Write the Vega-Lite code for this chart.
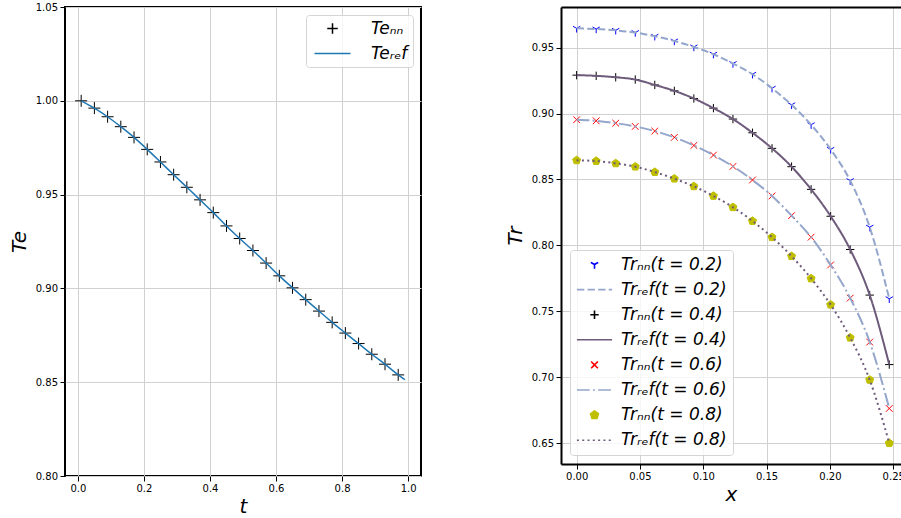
{
  "$schema": "https://vega.github.io/schema/vega-lite/v6.json",
  "background": "white",
  "padding": {"left": 8, "top": 1, "right": -3, "bottom": -4},
  "bounds": "flush",
  "spacing": 140,
  "resolve": {
    "scale": {"stroke": "independent", "fill": "independent", "shape": "independent", "strokeDash": "independent"},
    "legend": {"stroke": "independent", "fill": "independent", "shape": "independent", "strokeDash": "independent"}
  },
  "datasets": {
    "te_nn": [
      {"t": 0.01, "Te": 1.0, "s": "nn"}, {"t": 0.05, "Te": 0.9961, "s": "nn"}, {"t": 0.09, "Te": 0.9915, "s": "nn"},
      {"t": 0.13, "Te": 0.9862, "s": "nn"}, {"t": 0.17, "Te": 0.9805, "s": "nn"}, {"t": 0.21, "Te": 0.9741, "s": "nn"},
      {"t": 0.25, "Te": 0.9674, "s": "nn"}, {"t": 0.29, "Te": 0.9606, "s": "nn"}, {"t": 0.33, "Te": 0.9539, "s": "nn"},
      {"t": 0.37, "Te": 0.9472, "s": "nn"}, {"t": 0.41, "Te": 0.9404, "s": "nn"}, {"t": 0.45, "Te": 0.9333, "s": "nn"},
      {"t": 0.49, "Te": 0.9266, "s": "nn"}, {"t": 0.53, "Te": 0.9202, "s": "nn"}, {"t": 0.57, "Te": 0.9135, "s": "nn"},
      {"t": 0.61, "Te": 0.9067, "s": "nn"}, {"t": 0.65, "Te": 0.9003, "s": "nn"}, {"t": 0.69, "Te": 0.894, "s": "nn"},
      {"t": 0.73, "Te": 0.8879, "s": "nn"}, {"t": 0.77, "Te": 0.8819, "s": "nn"}, {"t": 0.81, "Te": 0.8762, "s": "nn"},
      {"t": 0.85, "Te": 0.8706, "s": "nn"}, {"t": 0.89, "Te": 0.8649, "s": "nn"}, {"t": 0.93, "Te": 0.8596, "s": "nn"},
      {"t": 0.97, "Te": 0.8539, "s": "nn"}
    ],
    "te_ref": [
      {"t": 0.01, "Te": 1.0, "s": "ref"}, {"t": 0.05, "Te": 0.9961, "s": "ref"}, {"t": 0.09, "Te": 0.9915, "s": "ref"},
      {"t": 0.13, "Te": 0.9862, "s": "ref"}, {"t": 0.17, "Te": 0.9805, "s": "ref"}, {"t": 0.21, "Te": 0.9741, "s": "ref"},
      {"t": 0.25, "Te": 0.9674, "s": "ref"}, {"t": 0.29, "Te": 0.9606, "s": "ref"}, {"t": 0.33, "Te": 0.9539, "s": "ref"},
      {"t": 0.37, "Te": 0.9472, "s": "ref"}, {"t": 0.41, "Te": 0.9404, "s": "ref"}, {"t": 0.45, "Te": 0.9333, "s": "ref"},
      {"t": 0.49, "Te": 0.9266, "s": "ref"}, {"t": 0.53, "Te": 0.9202, "s": "ref"}, {"t": 0.57, "Te": 0.9135, "s": "ref"},
      {"t": 0.61, "Te": 0.9067, "s": "ref"}, {"t": 0.65, "Te": 0.9003, "s": "ref"}, {"t": 0.69, "Te": 0.894, "s": "ref"},
      {"t": 0.73, "Te": 0.8879, "s": "ref"}, {"t": 0.77, "Te": 0.8819, "s": "ref"}, {"t": 0.81, "Te": 0.8762, "s": "ref"},
      {"t": 0.85, "Te": 0.8706, "s": "ref"}, {"t": 0.89, "Te": 0.8649, "s": "ref"}, {"t": 0.93, "Te": 0.8596, "s": "ref"},
      {"t": 0.97, "Te": 0.8539, "s": "ref"}, {"t": 0.99, "Te": 0.8514, "s": "ref"}
    ],
    "tr_nn": [
      {"x": 0, "Tr": 0.9646, "s": "nn 0.2"}, {"x": 0.01543, "Tr": 0.9641, "s": "nn 0.2"}, {"x": 0.03086, "Tr": 0.9631, "s": "nn 0.2"},
      {"x": 0.04629, "Tr": 0.9614, "s": "nn 0.2"}, {"x": 0.06172, "Tr": 0.9586, "s": "nn 0.2"}, {"x": 0.07715, "Tr": 0.955, "s": "nn 0.2"},
      {"x": 0.09258, "Tr": 0.9505, "s": "nn 0.2"}, {"x": 0.10801, "Tr": 0.945, "s": "nn 0.2"}, {"x": 0.12344, "Tr": 0.9379, "s": "nn 0.2"},
      {"x": 0.13887, "Tr": 0.9298, "s": "nn 0.2"}, {"x": 0.1543, "Tr": 0.9192, "s": "nn 0.2"}, {"x": 0.16973, "Tr": 0.9066, "s": "nn 0.2"},
      {"x": 0.18516, "Tr": 0.8915, "s": "nn 0.2"}, {"x": 0.20059, "Tr": 0.8728, "s": "nn 0.2"}, {"x": 0.21602, "Tr": 0.8491, "s": "nn 0.2"},
      {"x": 0.23145, "Tr": 0.8138, "s": "nn 0.2"}, {"x": 0.24688, "Tr": 0.7595, "s": "nn 0.2"},
      {"x": 0, "Tr": 0.9291, "s": "nn 0.4"}, {"x": 0.01543, "Tr": 0.9286, "s": "nn 0.4"}, {"x": 0.03086, "Tr": 0.9275, "s": "nn 0.4"},
      {"x": 0.04629, "Tr": 0.9258, "s": "nn 0.4"}, {"x": 0.06172, "Tr": 0.9217, "s": "nn 0.4"}, {"x": 0.07715, "Tr": 0.9172, "s": "nn 0.4"},
      {"x": 0.09258, "Tr": 0.9114, "s": "nn 0.4"}, {"x": 0.10801, "Tr": 0.9041, "s": "nn 0.4"}, {"x": 0.12344, "Tr": 0.8958, "s": "nn 0.4"},
      {"x": 0.13887, "Tr": 0.8854, "s": "nn 0.4"}, {"x": 0.1543, "Tr": 0.8736, "s": "nn 0.4"}, {"x": 0.16973, "Tr": 0.8597, "s": "nn 0.4"},
      {"x": 0.18516, "Tr": 0.8425, "s": "nn 0.4"}, {"x": 0.20059, "Tr": 0.8221, "s": "nn 0.4"}, {"x": 0.21602, "Tr": 0.7969, "s": "nn 0.4"},
      {"x": 0.23145, "Tr": 0.7623, "s": "nn 0.4"}, {"x": 0.24688, "Tr": 0.7096, "s": "nn 0.4"},
      {"x": 0, "Tr": 0.8953, "s": "nn 0.6"}, {"x": 0.01543, "Tr": 0.8945, "s": "nn 0.6"}, {"x": 0.03086, "Tr": 0.8927, "s": "nn 0.6"},
      {"x": 0.04629, "Tr": 0.8902, "s": "nn 0.6"}, {"x": 0.06172, "Tr": 0.8867, "s": "nn 0.6"}, {"x": 0.07715, "Tr": 0.8819, "s": "nn 0.6"},
      {"x": 0.09258, "Tr": 0.8758, "s": "nn 0.6"}, {"x": 0.10801, "Tr": 0.8685, "s": "nn 0.6"}, {"x": 0.12344, "Tr": 0.8599, "s": "nn 0.6"},
      {"x": 0.13887, "Tr": 0.8496, "s": "nn 0.6"}, {"x": 0.1543, "Tr": 0.8375, "s": "nn 0.6"}, {"x": 0.16973, "Tr": 0.8226, "s": "nn 0.6"},
      {"x": 0.18516, "Tr": 0.8062, "s": "nn 0.6"}, {"x": 0.20059, "Tr": 0.7852, "s": "nn 0.6"}, {"x": 0.21602, "Tr": 0.76, "s": "nn 0.6"},
      {"x": 0.23145, "Tr": 0.7267, "s": "nn 0.6"}, {"x": 0.24688, "Tr": 0.6763, "s": "nn 0.6"},
      {"x": 0, "Tr": 0.8645, "s": "nn 0.8"}, {"x": 0.01543, "Tr": 0.864, "s": "nn 0.8"}, {"x": 0.03086, "Tr": 0.8622, "s": "nn 0.8"},
      {"x": 0.04629, "Tr": 0.8597, "s": "nn 0.8"}, {"x": 0.06172, "Tr": 0.8556, "s": "nn 0.8"}, {"x": 0.07715, "Tr": 0.8506, "s": "nn 0.8"},
      {"x": 0.09258, "Tr": 0.8448, "s": "nn 0.8"}, {"x": 0.10801, "Tr": 0.8375, "s": "nn 0.8"}, {"x": 0.12344, "Tr": 0.8289, "s": "nn 0.8"},
      {"x": 0.13887, "Tr": 0.8185, "s": "nn 0.8"}, {"x": 0.1543, "Tr": 0.8062, "s": "nn 0.8"}, {"x": 0.16973, "Tr": 0.7918, "s": "nn 0.8"},
      {"x": 0.18516, "Tr": 0.7749, "s": "nn 0.8"}, {"x": 0.20059, "Tr": 0.755, "s": "nn 0.8"}, {"x": 0.21602, "Tr": 0.73, "s": "nn 0.8"},
      {"x": 0.23145, "Tr": 0.698, "s": "nn 0.8"}, {"x": 0.24688, "Tr": 0.65, "s": "nn 0.8"}
    ],
    "tr_ref": [
      {"x": 0, "Tr": 0.9646, "s": "ref 0.2"}, {"x": 0.01543, "Tr": 0.9641, "s": "ref 0.2"}, {"x": 0.03086, "Tr": 0.9631, "s": "ref 0.2"},
      {"x": 0.04629, "Tr": 0.9614, "s": "ref 0.2"}, {"x": 0.06172, "Tr": 0.9586, "s": "ref 0.2"}, {"x": 0.07715, "Tr": 0.955, "s": "ref 0.2"},
      {"x": 0.09258, "Tr": 0.9505, "s": "ref 0.2"}, {"x": 0.10801, "Tr": 0.945, "s": "ref 0.2"}, {"x": 0.12344, "Tr": 0.9379, "s": "ref 0.2"},
      {"x": 0.13887, "Tr": 0.9298, "s": "ref 0.2"}, {"x": 0.1543, "Tr": 0.9192, "s": "ref 0.2"}, {"x": 0.16973, "Tr": 0.9066, "s": "ref 0.2"},
      {"x": 0.18516, "Tr": 0.8915, "s": "ref 0.2"}, {"x": 0.20059, "Tr": 0.8728, "s": "ref 0.2"}, {"x": 0.21602, "Tr": 0.8491, "s": "ref 0.2"},
      {"x": 0.23145, "Tr": 0.8138, "s": "ref 0.2"}, {"x": 0.24688, "Tr": 0.7595, "s": "ref 0.2"},
      {"x": 0, "Tr": 0.9291, "s": "ref 0.4"}, {"x": 0.01543, "Tr": 0.9286, "s": "ref 0.4"}, {"x": 0.03086, "Tr": 0.9275, "s": "ref 0.4"},
      {"x": 0.04629, "Tr": 0.9258, "s": "ref 0.4"}, {"x": 0.06172, "Tr": 0.9217, "s": "ref 0.4"}, {"x": 0.07715, "Tr": 0.9172, "s": "ref 0.4"},
      {"x": 0.09258, "Tr": 0.9114, "s": "ref 0.4"}, {"x": 0.10801, "Tr": 0.9041, "s": "ref 0.4"}, {"x": 0.12344, "Tr": 0.8958, "s": "ref 0.4"},
      {"x": 0.13887, "Tr": 0.8854, "s": "ref 0.4"}, {"x": 0.1543, "Tr": 0.8736, "s": "ref 0.4"}, {"x": 0.16973, "Tr": 0.8597, "s": "ref 0.4"},
      {"x": 0.18516, "Tr": 0.8425, "s": "ref 0.4"}, {"x": 0.20059, "Tr": 0.8221, "s": "ref 0.4"}, {"x": 0.21602, "Tr": 0.7969, "s": "ref 0.4"},
      {"x": 0.23145, "Tr": 0.7623, "s": "ref 0.4"}, {"x": 0.24688, "Tr": 0.7096, "s": "ref 0.4"},
      {"x": 0, "Tr": 0.8953, "s": "ref 0.6"}, {"x": 0.01543, "Tr": 0.8945, "s": "ref 0.6"}, {"x": 0.03086, "Tr": 0.8927, "s": "ref 0.6"},
      {"x": 0.04629, "Tr": 0.8902, "s": "ref 0.6"}, {"x": 0.06172, "Tr": 0.8867, "s": "ref 0.6"}, {"x": 0.07715, "Tr": 0.8819, "s": "ref 0.6"},
      {"x": 0.09258, "Tr": 0.8758, "s": "ref 0.6"}, {"x": 0.10801, "Tr": 0.8685, "s": "ref 0.6"}, {"x": 0.12344, "Tr": 0.8599, "s": "ref 0.6"},
      {"x": 0.13887, "Tr": 0.8496, "s": "ref 0.6"}, {"x": 0.1543, "Tr": 0.8375, "s": "ref 0.6"}, {"x": 0.16973, "Tr": 0.8226, "s": "ref 0.6"},
      {"x": 0.18516, "Tr": 0.8062, "s": "ref 0.6"}, {"x": 0.20059, "Tr": 0.7852, "s": "ref 0.6"}, {"x": 0.21602, "Tr": 0.76, "s": "ref 0.6"},
      {"x": 0.23145, "Tr": 0.7267, "s": "ref 0.6"}, {"x": 0.24688, "Tr": 0.6763, "s": "ref 0.6"},
      {"x": 0, "Tr": 0.8645, "s": "ref 0.8"}, {"x": 0.01543, "Tr": 0.864, "s": "ref 0.8"}, {"x": 0.03086, "Tr": 0.8622, "s": "ref 0.8"},
      {"x": 0.04629, "Tr": 0.8597, "s": "ref 0.8"}, {"x": 0.06172, "Tr": 0.8556, "s": "ref 0.8"}, {"x": 0.07715, "Tr": 0.8506, "s": "ref 0.8"},
      {"x": 0.09258, "Tr": 0.8448, "s": "ref 0.8"}, {"x": 0.10801, "Tr": 0.8375, "s": "ref 0.8"}, {"x": 0.12344, "Tr": 0.8289, "s": "ref 0.8"},
      {"x": 0.13887, "Tr": 0.8185, "s": "ref 0.8"}, {"x": 0.1543, "Tr": 0.8062, "s": "ref 0.8"}, {"x": 0.16973, "Tr": 0.7918, "s": "ref 0.8"},
      {"x": 0.18516, "Tr": 0.7749, "s": "ref 0.8"}, {"x": 0.20059, "Tr": 0.755, "s": "ref 0.8"}, {"x": 0.21602, "Tr": 0.73, "s": "ref 0.8"},
      {"x": 0.23145, "Tr": 0.698, "s": "ref 0.8"}, {"x": 0.24688, "Tr": 0.65, "s": "ref 0.8"}
    ]
  },
  "hconcat": [
    {
      "width": 356,
      "height": 469,
      "layer": [
        {
          "data": {"name": "te_nn"},
          "mark": {"type": "point", "filled": false, "opacity": 1, "strokeWidth": 1, "size": 144},
          "encoding": {
            "x": {"field": "t", "type": "quantitative",
                  "scale": {"domain": [-0.039, 1.039], "nice": false, "zero": false},
                  "axis": {"title": "t", "values": [0, 0.2, 0.4, 0.6, 0.8, 1.0], "format": ".1f", "titlePadding": 3}},
            "y": {"field": "Te", "type": "quantitative",
                  "scale": {"domain": [0.8, 1.05], "nice": false, "zero": false},
                  "axis": {"title": "Te", "values": [0.8, 0.85, 0.9, 0.95, 1.0, 1.05], "format": ".2f", "titlePadding": 6}},
            "stroke": {"field": "s", "type": "nominal",
                       "scale": {"domain": ["nn", "ref"], "range": ["#000000", "#1f77b4"]},
                       "legend": {"title": null, "orient": "top-right", "offset": 8, "padding": 5,
                                  "symbolSize": 110, "symbolStrokeWidth": 1.5, "symbolOffset": 13, "labelOffset": 30,
                                  "rowPadding": 7,
                                  "labelFontSize": 17, "labelFontStyle": "italic", "labelFont": "DejaVu Sans",
                                  "fillColor": "rgba(255,255,255,0.8)", "strokeColor": "#d5d5d5", "cornerRadius": 3,
                                  "labelExpr": "datum.value === 'nn' ? 'Teₙₙ' : 'Teᵣₑf'"}},
            "shape": {"field": "s", "type": "nominal",
                      "scale": {"domain": ["nn", "ref"], "range": ["M-1,0L1,0M0,-1L0,1", "M-3.43,0L3.43,0"]}}
          }
        },
        {
          "data": {"name": "te_ref"},
          "mark": {"type": "line", "strokeWidth": 1.5, "interpolate": "monotone"},
          "encoding": {
            "x": {"field": "t", "type": "quantitative"},
            "y": {"field": "Te", "type": "quantitative"},
            "stroke": {"field": "s", "type": "nominal"}
          }
        }
      ]
    },
    {
      "width": 340,
      "height": 457,
      "view": {"stroke": null},
      "resolve": {"axis": {"x": "independent"}},
      "layer": [
        {
          "data": {"name": "tr_nn"},
          "mark": {"type": "point", "opacity": 1, "strokeWidth": 1, "size": 70},
          "encoding": {
            "x": {"field": "x", "type": "quantitative",
                  "scale": {"domain": [-0.01235, 0.25615], "nice": false, "zero": false},
                  "axis": {"title": "x", "values": [0, 0.05, 0.1, 0.15, 0.2, 0.25], "format": ".2f", "titlePadding": 3,
                           "domain": true, "domainColor": "#000000", "domainWidth": 2}},
            "y": {"field": "Tr", "type": "quantitative",
                  "scale": {"domain": [0.6342, 0.9808], "nice": false, "zero": false},
                  "axis": {"title": "Tr", "values": [0.65, 0.7, 0.75, 0.8, 0.85, 0.9, 0.95], "format": ".2f", "titlePadding": 6,
                           "domain": true, "domainColor": "#000000", "domainWidth": 2}},
            "stroke": {"field": "s", "type": "nominal",
                       "scale": {"domain": ["nn 0.2", "ref 0.2", "nn 0.4", "ref 0.4", "nn 0.6", "ref 0.6", "nn 0.8", "ref 0.8"],
                                 "range": ["#0000ff", "#94a6cb", "#000000", "#6e5b7b", "#ff0000", "#94a6cb", "#bfbf00", "#6e5b7b"]},
                       "legend": {"title": null, "orient": "bottom-left", "offset": 9, "padding": 6,
                                  "symbolSize": 70, "symbolStrokeWidth": 1.6, "symbolOffset": 10, "labelOffset": 18,
                                  "rowPadding": 7.1,
                                  "labelFontSize": 17, "labelFontStyle": "italic", "labelFont": "DejaVu Sans",
                                  "fillColor": "rgba(255,255,255,0.8)", "strokeColor": "#d5d5d5", "cornerRadius": 3,
                                  "labelExpr": "(indexof(datum.value, 'ref') >= 0 ? 'Trᵣₑf' : 'Trₙₙ') + '(t = ' + slice(datum.value, -3) + ')'"}},
            "fill": {"field": "s", "type": "nominal",
                     "scale": {"domain": ["nn 0.2", "ref 0.2", "nn 0.4", "ref 0.4", "nn 0.6", "ref 0.6", "nn 0.8", "ref 0.8"],
                               "range": ["transparent", "transparent", "transparent", "transparent", "transparent", "transparent", "#bfbf00", "transparent"]}},
            "shape": {"field": "s", "type": "nominal",
                      "scale": {"domain": ["nn 0.2", "ref 0.2", "nn 0.4", "ref 0.4", "nn 0.6", "ref 0.6", "nn 0.8", "ref 0.8"],
                                "range": ["M0,0L0,1M0,0L-0.866,-0.5M0,0L0.866,-0.5", "M-4.2,0L4.2,0", "M-1,0L1,0M0,-1L0,1", "M-4.2,0L4.2,0",
                                          "M-0.8,-0.8L0.8,0.8M-0.8,0.8L0.8,-0.8", "M-4.2,0L4.2,0",
                                          "M0,-1L0.951,-0.309L0.588,0.809L-0.588,0.809L-0.951,-0.309Z", "M-4.2,0L4.2,0"]}}
          }
        },
        {
          "data": {"name": "tr_ref"},
          "mark": {"type": "line", "strokeWidth": 2, "interpolate": "monotone"},
          "encoding": {
            "x": {"field": "x", "type": "quantitative",
                  "axis": {"orient": "top", "title": null, "labels": false, "ticks": false, "grid": false,
                           "domain": true, "domainColor": "#000000", "domainWidth": 2}},
            "y": {"field": "Tr", "type": "quantitative"},
            "stroke": {"field": "s", "type": "nominal"},
            "strokeDash": {"field": "s", "type": "nominal",
                           "scale": {"domain": ["nn 0.2", "ref 0.2", "nn 0.4", "ref 0.4", "nn 0.6", "ref 0.6", "nn 0.8", "ref 0.8"],
                                     "range": [[1, 0], [7.4, 3.2], [1, 0], [1, 0], [1, 0], [12.8, 3.2, 2, 3.2], [1, 0], [2, 3.3]]}}
          }
        }
      ]
    }
  ],
  "config": {
    "view": {"stroke": "#000000", "strokeWidth": 2},
    "axis": {
      "domain": false, "tickColor": "#000000", "tickSize": 5, "tickWidth": 1,
      "labelFont": "DejaVu Sans", "labelFontSize": 10, "labelColor": "#000000", "labelPadding": 2.5,
      "grid": true, "gridColor": "#d0d0d0", "gridWidth": 1,
      "titleFont": "DejaVu Sans", "titleFontSize": 20, "titleFontStyle": "italic", "titleFontWeight": "normal", "titleColor": "#000000"
    }
  }
}
